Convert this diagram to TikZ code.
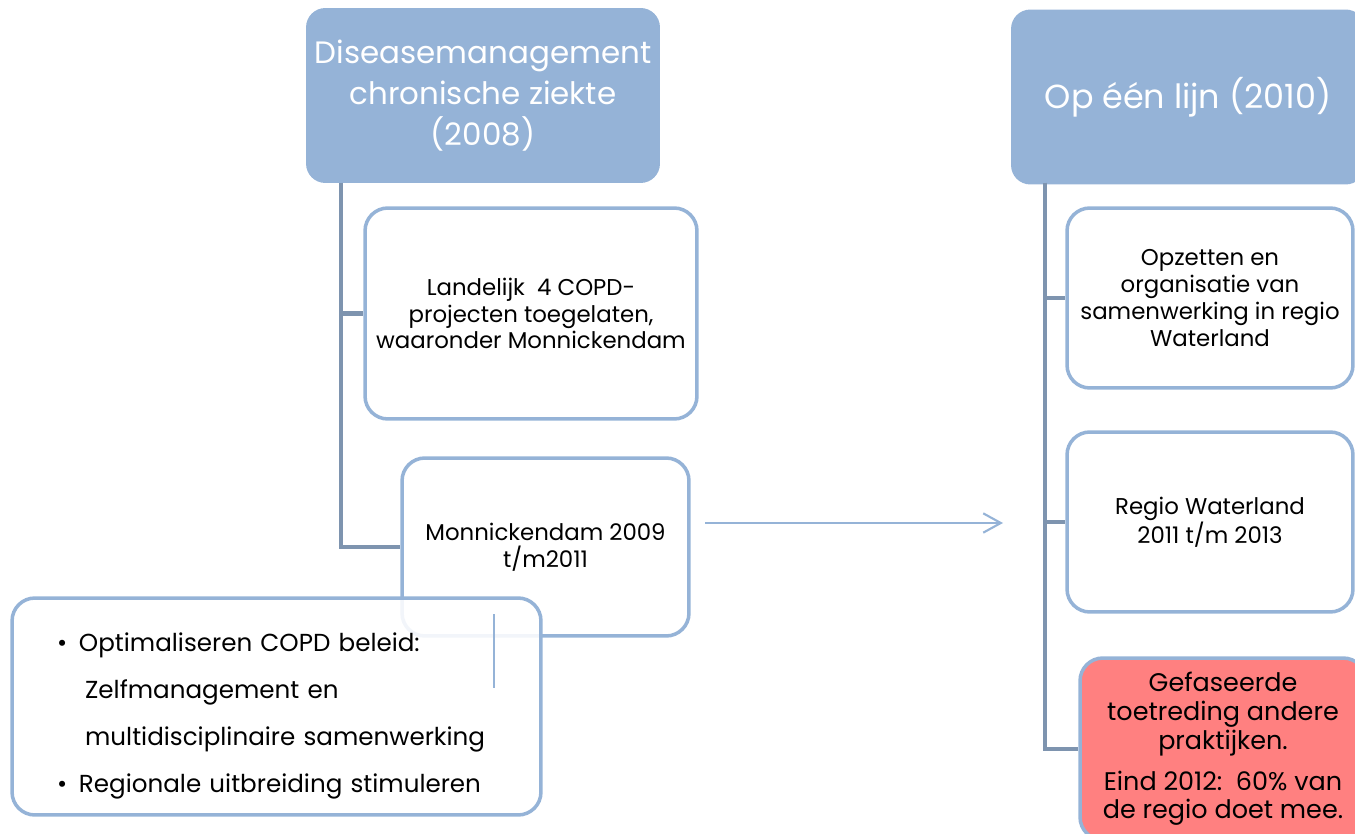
\documentclass[tikz,border=0pt]{standalone}
\usepackage{fontspec}
\setmainfont{Poppins}
\usepackage{tikz}
\usetikzlibrary{arrows.meta,positioning}
\definecolor{hdrblue}{RGB}{149,179,215}
\definecolor{trunkgrey}{RGB}{126,148,175}
\definecolor{alertred}{RGB}{255,128,128}
\tikzset{header/.style={rectangle,rounded corners=11pt,fill=hdrblue,text=white,align=center,inner sep=0pt,font=\fontsize{17.6}{23.2}\selectfont},
  card/.style={rectangle,rounded corners=13pt,draw=hdrblue,line width=2pt,fill=white,align=center,inner sep=0pt,font=\fontsize{13}{15.3}\selectfont},
  trunk/.style={draw=trunkgrey,line width=2.3pt},
  flow/.style={draw=hdrblue,line width=1.2pt,-{Straight Barb[length=10pt,width=11pt]}}}

\begin{document}
\begin{tikzpicture}[x=0.02cm,y=-0.02cm]

\useasboundingbox (0,0) rectangle (1355,834);
\clip (0,0) rectangle (1355,834);

% Diseasemanagement side
\node[header,minimum width=7.08cm,minimum height=3.5cm] (dm-head) at (483,95.5) {Diseasemanagement\\chronische ziekte\\(2008)};
\node[card,minimum width=6.64cm,minimum height=4.22cm] (dm-landelijk) at (531,313.5) {Landelijk~~4 COPD-\\projecten toegelaten,\\waaronder Monnickendam};
\node[card,minimum width=5.74cm,minimum height=3.56cm] (dm-monnick) at (545.5,547) {Monnickendam 2009\\t/m2011};

% Trunk left
\coordinate (dm-trunk) at (341,183);
\draw[trunk] (dm-trunk) |- (dm-landelijk.west);
\draw[trunk] (dm-trunk) |- (dm-monnick.west);

% Goals box (lies over the Monnickendam card)
\node[card,minimum width=10.58cm,minimum height=4.34cm,inner xsep=0.9cm,text width=8.78cm,fill opacity=0.88,text opacity=1,align=left,font=\fontsize{14}{26.8}\selectfont] (dm-goals) at (276.5,706.5)
  {\rule{0pt}{21pt}\makebox[12.5pt][l]{\textbullet}Optimaliseren COPD beleid:\\
   \hspace*{16pt}Zelfmanagement en\\
   \hspace*{16pt}multidisciplinaire samenwerking\\
   \makebox[12.5pt][l]{\textbullet}Regionale uitbreiding stimuleren};
\coordinate (goals-mark-top) at (494,614);
\coordinate (goals-mark-bot) at (494,688);
\draw[hdrblue,line width=0.8pt] (goals-mark-top) -- (goals-mark-bot);

% The flow arrow
\coordinate (flow-start) at (705,523);
\coordinate (flow-end) at (1003,523);
\draw[flow] (flow-start) -- (flow-end);

% Op een lijn side
\node[header,minimum width=7.08cm,minimum height=3.5cm,font=\fontsize{19}{23.2}\selectfont] (oel-head) at (1188,97) {Op één lijn (2010)};
\node[card,minimum width=5.72cm,minimum height=3.6cm] (oel-opzet) at (1210,298) {Opzetten en\\organisatie van\\samenwerking in regio\\Waterland};
\node[card,minimum width=5.72cm,minimum height=3.6cm] (oel-regio) at (1210,522) {Regio Waterland\\2011 t/m 2013};
\node[card,fill=alertred,minimum width=5.72cm,minimum height=3.64cm,font=\fontsize{14.5}{16.3}\selectfont] (oel-fase) at (1223,749) {Gefaseerde\\toetreding andere\\praktijken.\\[7pt]Eind 2012:~~60\% van\\de regio doet mee.};

% Trunk right
\coordinate (oel-trunk) at (1045,183);
\draw[trunk] (oel-trunk) |- (oel-opzet.west);
\draw[trunk] (oel-trunk) |- (oel-regio.west);
\draw[trunk] (oel-trunk) |- (oel-fase.west);

\end{tikzpicture}
\end{document}
